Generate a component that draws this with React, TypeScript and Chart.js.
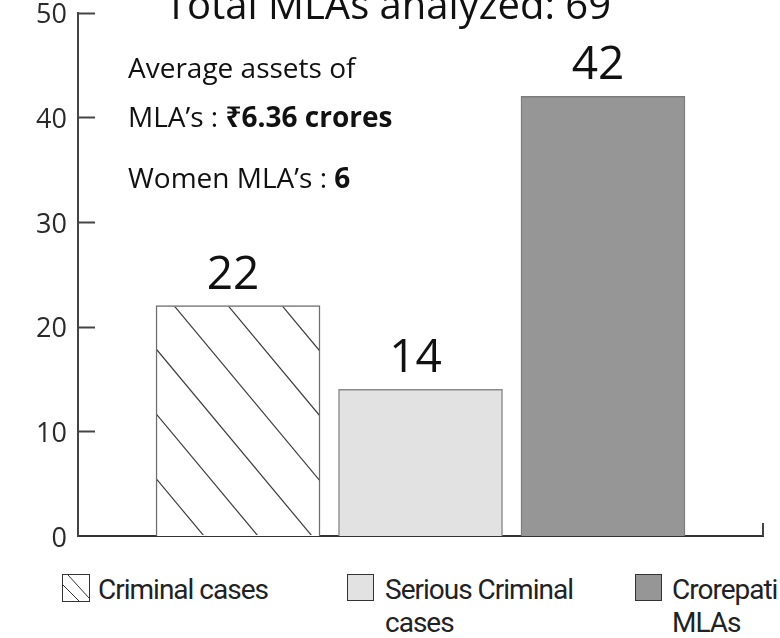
import React, { useEffect, useRef } from 'react';
import { Chart, registerables } from 'chart.js';

Chart.register(...registerables);

// ---- data ----
const categories = ['Criminal cases', 'Serious Criminal cases', 'Crorepati MLAs'];
const legendLines = [['Criminal cases'], ['Serious Criminal', 'cases'], ['Crorepati', 'MLAs']];
const values = [22, 14, 42];
const positions = [1, 2, 3];
const fills = ['#ffffff', '#e2e2e2', '#969696'];
const borders = ['#6e6e6e', '#8a8a8a', '#7c7c7c'];
const yTicks = [0, 10, 20, 30, 40, 50];
const titleText = 'Total MLAs analyzed: 69';
const noteLines = [
  [{ t: 'Average assets of', b: false }],
  [{ t: 'MLA\u2019s : ', b: false }, { t: '\u20B96.36 crores', b: true }],
  [{ t: 'Women MLA\u2019s : ', b: false }, { t: '6', b: true }],
];

const FONT = '"Open Sans", "Noto Sans", sans-serif';

const overlay = {
  id: 'overlay',
  afterDatasetsDraw(chart: any) {
    const ctx = chart.ctx as CanvasRenderingContext2D;
    const meta = chart.getDatasetMeta(0);
    // hatch on first bar
    const b0 = meta.data[0].getProps(['x', 'y', 'base', 'width'], true);
    const left = b0.x - b0.width / 2;
    const right = b0.x + b0.width / 2;
    const h = b0.base - b0.y;
    const slope = 1.2;
    const gap = 54;
    ctx.save();
    ctx.beginPath();
    ctx.rect(left + 1, b0.y + 1, b0.width - 2, h - 2);
    ctx.clip();
    ctx.strokeStyle = '#3a3a3a';
    ctx.lineWidth = 1.2;
    const start = left + 18 - gap * Math.ceil(h / slope / gap + 1);
    for (let xs = start; xs < right; xs += gap) {
      ctx.beginPath();
      ctx.moveTo(xs, b0.y);
      ctx.lineTo(xs + h / slope, b0.base);
      ctx.stroke();
    }
    ctx.restore();

    // value labels
    ctx.save();
    ctx.font = `46px ${FONT}`;
    ctx.fillStyle = '#111';
    ctx.textAlign = 'center';
    ctx.textBaseline = 'alphabetic';
    meta.data.forEach((el: any, i: number) => {
      const p = el.getProps(['x', 'y'], true);
      ctx.fillText(String(values[i]), p.x - 5, p.y - 17);
    });
    ctx.restore();
  },
  afterDraw(chart: any) {
    const ctx = chart.ctx as CanvasRenderingContext2D;
    const area = chart.chartArea;
    const ys = chart.scales.y;
    ctx.save();
    ctx.strokeStyle = '#444';
    ctx.lineWidth = 2;
    yTicks.forEach((v) => {
      if (v === 0) return;
      const py = Math.round(ys.getPixelForValue(v)) + 0.5;
      ctx.beginPath();
      ctx.moveTo(area.left, py);
      ctx.lineTo(area.left + 17, py);
      ctx.stroke();
    });
    // right end tick
    ctx.beginPath();
    ctx.moveTo(area.right, area.bottom);
    ctx.lineTo(area.right, area.bottom - 13);
    ctx.stroke();
    ctx.restore();

    // title
    ctx.save();
    ctx.font = `40px ${FONT}`;
    ctx.fillStyle = '#111';
    ctx.textAlign = 'center';
    ctx.textBaseline = 'alphabetic';
    ctx.fillText(titleText, 388, 19);
    ctx.restore();

    // notes
    ctx.save();
    ctx.fillStyle = '#111';
    ctx.textBaseline = 'alphabetic';
    ctx.textAlign = 'left';
    const baselines = [78, 127, 188];
    noteLines.forEach((line, i) => {
      let x = area.left + 50;
      line.forEach((seg) => {
        ctx.font = `${seg.b ? 'bold ' : ''}28px ${FONT}`;
        ctx.fillText(seg.t, x, baselines[i]);
        x += ctx.measureText(seg.t).width;
      });
    });
    ctx.restore();
  },
};

function HatchBox() {
  return (
    <svg width="28" height="28" style={{ display: 'block' }}>
      <rect x="0.5" y="0.5" width="27" height="27" fill="#fff" stroke="#333" strokeWidth="1" />
      <line x1="6" y1="1" x2="27" y2="24" stroke="#333" strokeWidth="1" />
      <line x1="1" y1="11" x2="17" y2="27" stroke="#333" strokeWidth="1" />
    </svg>
  );
}

function ColorBox({ fill }: { fill: string }) {
  return (
    <div
      style={{
        width: 27,
        height: 27,
        background: fill,
        border: '1px solid #333',
        boxSizing: 'border-box',
      }}
    />
  );
}

const legendPos = [
  { box: 62, text: 98 },
  { box: 347, text: 385 },
  { box: 635, text: 672 },
];

export default function App() {
  const ref = useRef<HTMLCanvasElement | null>(null);

  useEffect(() => {
    if (!ref.current) return;
    const chart = new Chart(ref.current, {
      type: 'bar',
      data: {
        datasets: [
          {
            label: 'MLAs',
            data: positions.map((p, i) => ({ x: p, y: values[i] })) as any,
            backgroundColor: fills,
            borderColor: borders,
            borderWidth: 1.5,
            barThickness: 164,
          },
        ],
      },
      options: {
        responsive: false,
        animation: false,
        maintainAspectRatio: false,
        layout: { padding: { top: 12.5, right: 17, bottom: 24, left: 0 } },
        plugins: {
          legend: { display: false },
          tooltip: { enabled: false },
          title: { display: false },
        },
        scales: {
          x: {
            type: 'linear',
            offset: false,
            min: 0.123,
            max: 3.877,
            grid: { display: false, drawTicks: false, offset: false },
            ticks: { display: false, includeBounds: false },
            border: { display: true, color: '#333', width: 2 },
            afterFit: (s: any) => {
              s.height = 0;
              s.paddingLeft = 0;
              s.paddingRight = 0;
            },
          },
          y: {
            min: 0,
            max: 50,
            ticks: {
              stepSize: 10,
              padding: 11,
              labelOffset: 3,
              color: '#2a2a2a',
              font: { family: FONT, size: 27, lineHeight: 0.9 },
            },
            grid: { display: false, drawTicks: false },
            border: { display: true, color: '#444', width: 2 },
            afterFit: (s: any) => {
              s.width = 78;
              s.paddingTop = 0;
              s.paddingBottom = 0;
            },
          },
        },
      } as any,
      plugins: [overlay],
    });
    return () => chart.destroy();
  }, []);

  return (
    <div
      style={{
        position: 'fixed',
        left: 0,
        top: 0,
        width: 780,
        height: 638,
        overflow: 'hidden',
        background: '#fff',
      }}
    >
      <canvas ref={ref} width={780} height={560} style={{ display: 'block' }} />
      {categories.map((c, i) => (
        <React.Fragment key={c}>
          <div style={{ position: 'absolute', left: legendPos[i].box, top: 574 }}>
            {i === 0 ? <HatchBox /> : <ColorBox fill={fills[i]} />}
          </div>
          <div
            style={{
              position: 'absolute',
              left: legendPos[i].text,
              top: 573,
              fontFamily: 'Roboto, sans-serif',
              fontSize: 28,
              letterSpacing: '-1px',
              lineHeight: '33px',
              color: '#222',
              whiteSpace: 'nowrap',
            }}
          >
            {legendLines[i].map((l, j) => (
              <div key={j}>{l}</div>
            ))}
          </div>
        </React.Fragment>
      ))}
    </div>
  );
}
